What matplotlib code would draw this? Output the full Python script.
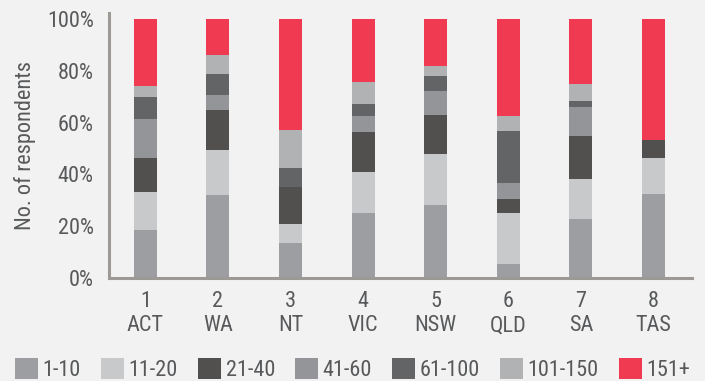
import matplotlib
matplotlib.use("Agg")
import matplotlib.pyplot as plt
import numpy as np

plt.rcParams['font.family'] = ['Roboto Condensed', 'Archivo Narrow', 'DejaVu Sans']

states = ["ACT", "WA", "NT", "VIC", "NSW", "QLD", "SA", "TAS"]
ranks = ["1", "2", "3", "4", "5", "6", "7", "8"]
bands = ["1-10", "11-20", "21-40", "41-60", "61-100", "101-150", "151+"]

# Share of respondents (%) in each band, per state
s_1_10 = [18.6, 32.2, 13.6, 25.2, 28.3, 5.4, 22.9, 32.6]
s_11_20 = [14.7, 17.4, 7.4, 15.9, 19.4, 19.8, 15.5, 13.6]
s_21_40 = [13.2, 15.1, 14.0, 15.1, 15.1, 5.4, 16.3, 7.0]
s_41_60 = [14.7, 5.8, 0.0, 6.2, 9.3, 6.2, 11.2, 0.0]
s_61_100 = [8.5, 8.1, 7.4, 4.7, 5.8, 19.8, 2.3, 0.0]
s_101_150 = [4.3, 7.4, 14.7, 8.5, 3.9, 5.8, 6.6, 0.0]
s_151_plus = [26.0, 14.0, 43.0, 24.4, 18.2, 37.6, 25.2, 46.9]

series = [s_1_10, s_11_20, s_21_40, s_41_60, s_61_100, s_101_150, s_151_plus]
colors = ["#9d9ea2", "#c8c9ca", "#51504e", "#939598", "#636466", "#b0b2b4", "#f03a52"]

bg = "#f2f2f2"
txt = "#58595b"
spine_c = "#9d9994"
fs = 16

W, H = 705, 381
fig = plt.figure(figsize=(W / 100, H / 100), dpi=100, facecolor=bg)
ax = fig.add_axes([0.1546, 0.270, 0.827, 0.696], facecolor=bg)

x = np.arange(len(states))
bottom = np.zeros(len(states))
containers = []
for vals, col, lab in zip(series, colors, bands):
    v = np.array(vals)
    c = ax.bar(x, v, bottom=bottom, width=0.317, color=col, label=lab, linewidth=0)
    containers.append(c)
    bottom += v

ax.set_xlim(-0.5, 7.53)
ax.set_ylim(0, 102.3)
ax.set_yticks([0, 20, 40, 60, 80, 100])
ax.set_yticklabels([f"{t}%" for t in [0, 20, 40, 60, 80, 100]])
ax.set_xticks(x)
ax.set_xticklabels([f"{r}\n{s}" for r, s in zip(ranks, states)], linespacing=1.22)
ax.tick_params(axis='both', length=0, labelsize=fs, colors=txt)
ax.tick_params(axis='y', pad=11)
ax.tick_params(axis='x', pad=9)
ax.set_ylabel("No. of respondents", fontsize=fs, color=txt, labelpad=8)

for side in ["top", "right"]:
    ax.spines[side].set_visible(False)
for side in ["left", "bottom"]:
    ax.spines[side].set_color(spine_c)
    ax.spines[side].set_linewidth(2.2)

# One legend entry per band, laid out along the bottom edge
legend_left_px = [15, 101, 198, 295, 392, 500, 619]
for c, lab, lx in zip(containers, bands, legend_left_px):
    leg = fig.legend(handles=[c], labels=[lab], loc="lower left",
                     bbox_to_anchor=(lx / W, 0.0), frameon=False,
                     fontsize=fs, handlelength=1.04, handleheight=1.04,
                     handletextpad=0.2, borderpad=0, borderaxespad=0)
    for t in leg.get_texts():
        t.set_color(txt)

fig.savefig("out.png", dpi=100, facecolor=bg)
